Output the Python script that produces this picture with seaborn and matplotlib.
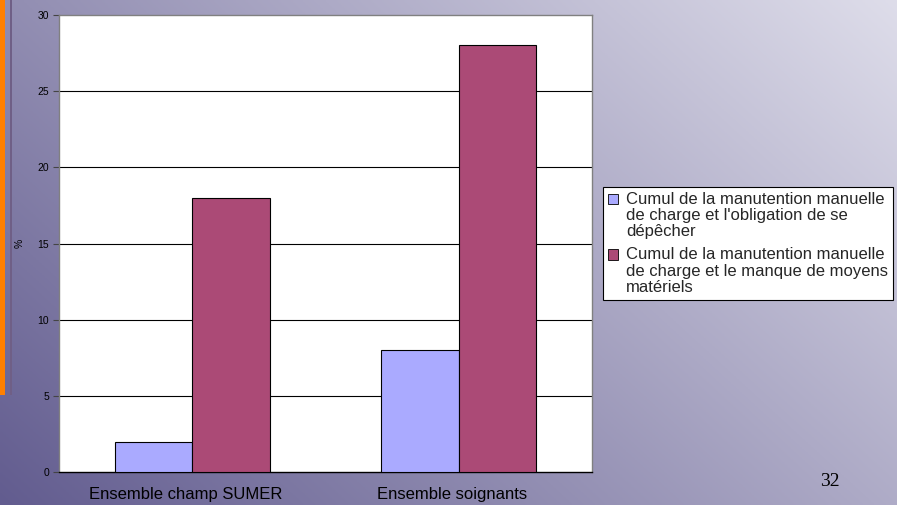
import numpy as np
import pandas as pd
import matplotlib
matplotlib.use("Agg")
import matplotlib.pyplot as plt
from matplotlib.patches import Rectangle
from matplotlib.legend_handler import HandlerPatch
from matplotlib.transforms import ScaledTranslation
import seaborn as sns

# Data
categories = ["Ensemble champ SUMER", "Ensemble soignants"]
series_names = [
    "Cumul de la manutention manuelle\nde charge et l'obligation de se\ndépêcher",
    "Cumul de la manutention manuelle\nde charge et le manque de moyens\nmatériels",
]
values_depecher = [2, 8]
values_moyens = [18, 28]
y_ticks = [0, 5, 10, 15, 20, 25, 30]
page_number = "32"

df = pd.DataFrame({
    "categorie": categories * 2,
    "serie": [series_names[0]] * len(categories) + [series_names[1]] * len(categories),
    "valeur": values_depecher + values_moyens,
})

sns.set_theme(style="white")
plt.rcParams["font.family"] = ["Liberation Sans", "DejaVu Sans"]

W, H = 897, 505
fig = plt.figure(figsize=(W / 100, H / 100), dpi=100)

# Slide background: diagonal gradient from dark violet (bottom-left) to pale lavender (top-right)
bg = fig.add_axes([0, 0, 1, 1], zorder=-10)
xx, yy = np.meshgrid(np.linspace(0, 1, 300), np.linspace(0, 1, 200))
t = np.clip(0.62 * xx + 0.38 * yy, 0, 1)
c0 = np.array([98, 92, 143]) / 255.0
c1 = np.array([222, 221, 234]) / 255.0
img = c0[None, None, :] * (1 - t[..., None]) + c1[None, None, :] * t[..., None]
bg.imshow(img, origin="lower", extent=[0, 1, 0, 1], aspect="auto")
bg.set_xlim(0, 1)
bg.set_ylim(0, 1)
bg.axis("off")

# Decorative orange band and thin rule on the left edge
fig.patches.append(Rectangle((0, 1 - 395 / H), 5 / W, 395 / H, transform=fig.transFigure,
                             facecolor="#ff8000", edgecolor="none", zorder=-5))
fig.patches.append(Rectangle((10 / W, 1 - 395 / H), 2 / W, 395 / H, transform=fig.transFigure,
                             facecolor="#6f5f86", edgecolor="none", zorder=-5))

# Chart area
left, right, top, bottom = 59, 592, 15, 472
ax = fig.add_axes([left / W, 1 - bottom / H, (right - left) / W, (bottom - top) / H])
ax.set_facecolor("white")

palette = {series_names[0]: "#aaaaff", series_names[1]: "#ab4a76"}
sns.barplot(data=df, x="categorie", y="valeur", hue="serie", order=categories,
            hue_order=series_names, palette=palette, width=0.58, gap=0,
            edgecolor="black", linewidth=0.8, saturation=1, ax=ax, zorder=3)

ax.set_ylim(0, 30)
ax.set_xlim(-0.5, len(categories) - 0.5)
ax.set_yticks(y_ticks)
ax.set_yticklabels([str(v) for v in y_ticks], fontsize=7.5, color="black")
for v in y_ticks[1:-1]:
    ax.axhline(v, color="black", linewidth=0.8, zorder=1)

ax.set_xticks(range(len(categories)))
ax.set_xticklabels(categories, fontsize=12, color="black")
ax.tick_params(axis="x", which="major", length=0, pad=11)
# category names sit a little left of the group centres
nudge = ScaledTranslation(-7 / 100, 0, fig.dpi_scale_trans)
for lbl in ax.get_xticklabels():
    lbl.set_transform(lbl.get_transform() + nudge)
ax.set_xticks([-0.5, 0.5, 1.5], minor=True)
ax.tick_params(axis="x", which="minor", length=4, width=0.8, color="#444444", direction="out")
ax.tick_params(axis="y", length=4, width=0.8, color="#444444", direction="out", pad=3, left=True)

ax.set_xlabel("")
ax.set_ylabel("%", fontsize=7.5, color="black")
ax.yaxis.set_label_coords(-(left - 25) / (right - left), (bottom - 243) / (bottom - top))

for side in ["left", "top", "right"]:
    ax.spines[side].set_color("#808080")
    ax.spines[side].set_linewidth(1.0)
ax.spines["bottom"].set_color("black")
ax.spines["bottom"].set_linewidth(1.0)


# Legend key squares sit beside the first line of each (three-line) label
def top_aligned_square(legend, orig_handle, xdescent, ydescent, width, height, fontsize):
    shift = fontsize * 1.0
    return Rectangle((-xdescent, -ydescent + shift), width, height)


handles, labels = ax.get_legend_handles_labels()
ax.get_legend().remove()
leg = fig.legend(handles, labels, loc="upper left",
                 bbox_to_anchor=(603 / W, 1 - 187 / H),
                 handler_map={Rectangle: HandlerPatch(patch_func=top_aligned_square)},
                 fontsize=12, frameon=True, fancybox=False, edgecolor="black",
                 handlelength=0.6, handleheight=0.6, handletextpad=0.5,
                 labelspacing=0.5, borderpad=0.3, borderaxespad=0)
leg.get_frame().set_facecolor("white")
leg.get_frame().set_linewidth(0.8)
leg.get_frame().set_alpha(1)
for txt in leg.get_texts():
    txt.set_linespacing(1.09)
for h in leg.legend_handles:
    h.set_edgecolor("black")
    h.set_linewidth(0.6)

# Slide number
fig.text(830 / W, 1 - 481 / H, page_number, family="Liberation Serif", fontsize=14,
         ha="center", va="center", color="black")

fig.savefig("out.png", dpi=100)
